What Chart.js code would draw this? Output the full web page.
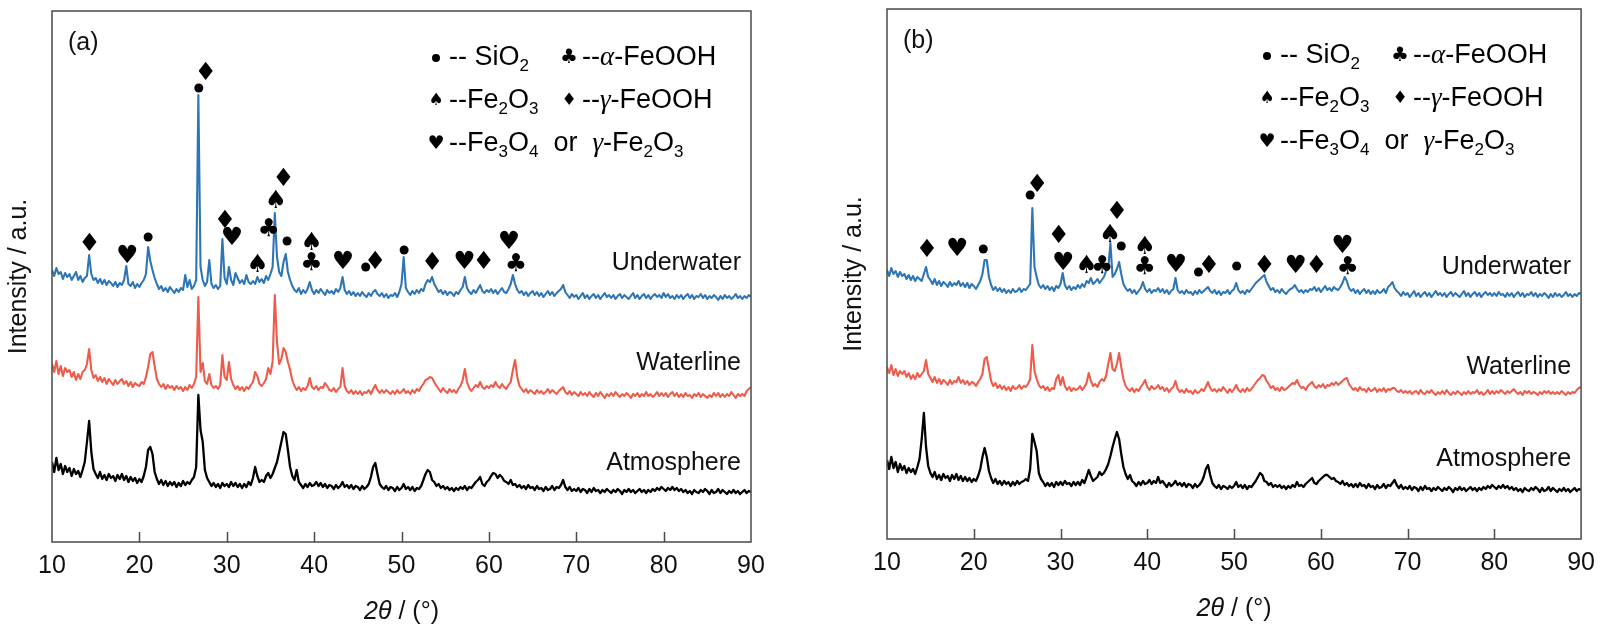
<!DOCTYPE html>
<html>
<head>
<meta charset="utf-8">
<script src="https://cdn.jsdelivr.net/npm/chart.js@4.4.1/dist/chart.umd.min.js"></script>
<style>
html,body{margin:0;padding:0;background:#fff;}
#wrap{position:relative;width:1604px;height:633px;overflow:hidden;background:#fff;}
canvas{position:absolute;top:0;}
#ca{left:0;}
#cb{left:802px;}
</style>
</head>
<body>
<div id="wrap">
  <canvas id="ca" width="802" height="633"></canvas>
  <canvas id="cb" width="802" height="633"></canvas>
</div>
<script>
//2theta sampling: 10 to 90 deg every 0.25 deg
const angleStart = 10;
const angleStep = 0.25;
const angleCount = 321;
const angles = Array.from({length: angleCount}, (_, i) => angleStart + i * angleStep);

const xTicks = [10, 20, 30, 40, 50, 60, 70, 80, 90];
const seriesNames = ['Underwater', 'Waterline', 'Atmosphere'];

//panel (a) intensities, a.u. (stacked as in the figure)
const aUnder = [
  272,266,274,268, 270,263,269,265, 268,262,266,270, 262,266,260,264, 266,287,268,262, //10-14
  264,259,263,258, 262,257,261,259, 256,260,255,259, 257,262,276,258, 256,260,254,258, //15-19
  255,259,262,268, 295,281,272,264, 258,253,256,251, 254,250,255,252, 249,253,250,254, //20-24
  252,267,255,262, 253,256,262,447, 275,262,256,260, 282,258,254,257, 253,256,303,264, //25-29
  258,275,262,257, 269,264,259,262, 258,267,260,258, 261,258,265,260, 263,259,266,262, //30-34
  268,275,329,285, 270,266,280,288, 270,262,256,252, 250,254,248,252, 249,253,260,252, //35-39
  248,252,249,253, 250,247,252,249, 251,248,253,250, 254,265,252,248, 251,247,250,246, //40-44
  249,246,250,247, 245,249,246,250, 252,248,246,249, 245,248,244,247, 246,249,245,250, //45-49
  258,285,254,250, 247,251,248,252, 249,253,251,258, 262,260,265,258, 254,250,252,248, //50-54
  251,247,250,249, 246,250,248,252, 255,265,254,250, 248,252,249,253, 257,251,249,252, //55-59
  250,253,249,252, 248,251,254,250, 249,253,258,267, 258,252,249,251, 247,250,246,249, //60-64
  251,247,250,246, 249,245,248,251, 247,250,246,249, 251,253,257,250, 247,244,248,245, //65-69
  247,243,246,249, 244,247,243,246, 248,244,247,243, 246,249,245,247, 244,247,243,246, //70-74
  248,244,247,245, 243,246,249,244, 247,243,246,248, 244,247,243,246, 248,245,247,244, //75-79
  249,245,248,244, 246,243,247,244, 247,243,246,248, 244,247,243,246, 245,248,244,247, //80-84
  243,246,244,247, 245,242,246,243, 247,244,246,243, 245,248,244,246, 243,246,244,247, //85-89
  245
];
const aWater = [
  178,170,181,168, 176,166,174,170, 172,165,170,162, 168,163,170,172, 178,193,172,164,
  167,161,165,160, 164,158,163,160, 157,162,158,161, 163,158,161,156, 160,155,159,157,
  156,160,158,165, 175,188,190,176, 163,158,155,158, 153,157,154,156, 152,156,153,155,
  151,155,152,157, 154,158,165,245, 170,179,161,158, 168,157,154,156, 153,157,187,165,
  162,180,163,157, 153,156,152,155, 151,155,153,157, 160,170,166,158, 156,159,163,174,
  168,180,247,200, 178,183,194,190, 180,172,162,156, 152,155,151,154, 152,156,164,155,
  153,156,152,155, 154,159,156,152, 151,154,150,153, 155,174,156,151, 149,152,148,151,
  148,151,147,150, 149,152,148,153, 157,152,149,152, 149,152,150,148, 151,148,152,149,
  150,153,149,151, 148,152,149,153, 151,155,158,162, 163,165,164,160, 156,153,150,154,
  151,149,153,150, 152,149,153,156, 162,173,160,154, 151,154,157,155, 160,155,153,156,
  154,157,155,160, 156,154,158,155, 153,157,160,172, 182,165,156,153, 150,153,149,152,
  150,148,152,149, 151,148,150,153, 149,152,150,148, 151,153,155,150, 148,151,147,150,
  148,146,150,147, 149,146,150,147, 145,149,146,150, 147,144,148,146, 149,146,150,147,
  145,148,146,149, 147,144,148,146, 149,145,148,146, 150,146,148,145, 147,150,146,149,
  146,149,145,148, 150,146,149,145, 148,145,149,146, 147,144,148,146, 149,145,148,146,
  144,147,145,149, 146,149,145,148, 145,148,146,150, 147,144,148,146, 148,146,151,153,
  155
];
const aAtmo = [
  80,70,84,72, 78,68,76,70, 74,66,73,68, 71,65,72,80, 100,121,90,73,
  68,64,70,63, 67,62,68,64, 66,61,67,63, 68,62,66,60, 65,61,64,59,
  63,60,66,75, 92,95,88,70, 63,58,62,57, 61,56,60,57, 60,55,59,56,
  61,57,60,58, 62,65,75,147, 112,100,72,64, 60,56,59,55, 58,54,59,56,
  58,55,60,56, 59,55,58,54, 58,55,60,57, 64,75,66,60, 62,60,66,69,
  64,68,74,80, 90,100,110,108, 92,75,66,62, 72,60,57,54, 58,55,59,56,
  57,60,56,59, 55,58,54,57, 56,53,57,54, 56,60,55,57, 54,57,53,56,
  55,52,56,53, 55,58,65,75, 79,68,58,55, 53,56,52,55, 54,51,55,52,
  54,58,53,55, 52,55,51,54, 53,56,62,68, 72,70,62,60, 56,58,54,56,
  53,55,52,54, 51,54,52,55, 53,56,52,55, 54,57,60,62, 65,58,56,60,
  62,66,69,68, 64,67,65,61, 60,58,62,57, 58,55,57,54, 56,53,57,54,
  55,52,56,53, 54,51,55,52, 53,56,52,55, 54,57,62,55, 52,55,51,53,
  51,54,50,53, 52,49,53,50, 54,51,52,49, 52,50,53,51, 49,52,50,53,
  51,48,52,50, 53,50,52,49, 51,53,50,52, 49,52,50,53, 51,54,52,55,
  53,51,54,52, 55,52,54,51, 53,50,52,49, 51,48,52,50, 49,52,50,53,
  51,48,52,49, 50,53,49,52, 50,48,51,49, 52,49,51,48, 50,52,49,51,
  50
];

//panel (b) intensities, a.u.
const bUnder = [
  269,263,271,265, 268,262,267,263, 265,260,264,259, 263,258,262,260, 258,265,272,262,
  259,255,260,254, 258,253,257,255, 252,257,253,256, 254,258,253,256, 252,256,251,255,
  253,250,254,258, 265,279,279,262, 254,249,252,248, 251,247,250,246, 249,246,250,247,
  248,251,247,250, 249,252,255,331, 272,262,254,251, 254,250,253,249, 252,248,253,251,
  255,266,254,250, 253,249,252,250, 254,251,255,252, 258,256,261,255, 257,260,256,259,
  262,268,270,296, 262,265,270,277, 265,255,251,248, 250,246,249,245, 248,251,257,250,
  247,250,246,249, 248,251,247,250, 246,249,245,248, 250,261,249,246, 248,245,249,246,
  247,244,248,245, 249,246,248,250, 252,248,246,249, 245,248,244,247, 246,249,245,248,
  250,256,249,246, 248,245,249,247, 250,253,256,258, 260,262,264,257, 253,249,251,247,
  249,246,250,247, 245,248,250,251, 254,250,247,249, 246,249,247,250, 249,252,248,251,
  247,250,253,249, 251,248,252,250, 249,252,256,262, 258,251,248,250, 246,249,245,248,
  250,246,249,245, 248,245,249,246, 247,250,246,252, 254,257,251,248, 246,243,247,244,
  246,242,245,248, 243,246,242,245, 247,243,246,242, 245,248,244,246, 243,246,242,245,
  247,243,246,244, 242,245,248,243, 246,242,245,247, 243,246,242,245, 247,244,246,243,
  246,243,247,244, 245,242,246,243, 246,242,245,247, 243,246,242,245, 244,247,243,246,
  242,245,243,246, 244,241,245,242, 246,243,245,242, 244,247,243,245, 242,245,243,246,
  245
];
const bWater = [
  172,166,174,164, 170,163,168,165, 168,162,166,160, 164,160,166,162, 165,168,179,165,
  161,157,162,156, 160,155,159,157, 154,159,155,158, 157,162,156,159, 155,158,154,157,
  156,153,157,160, 165,180,182,170, 158,153,156,151, 154,150,153,149, 152,148,153,150,
  151,154,150,153, 152,155,160,194, 168,160,154,151, 153,149,152,148, 151,150,160,164,
  154,162,153,149, 152,148,151,149, 150,153,149,152, 156,166,158,153, 155,152,157,160,
  158,163,175,186, 170,168,175,186, 172,160,153,150, 148,151,147,150, 148,152,155,159,
  152,149,153,150, 151,154,150,152, 148,151,147,150, 152,158,150,147, 149,146,150,147,
  148,145,149,146, 147,150,148,152, 157,151,148,150, 147,150,148,152, 149,146,150,147,
  150,154,149,147, 150,147,151,148, 150,153,156,159, 161,164,163,158, 155,151,153,149,
  151,148,152,149, 150,152,154,156, 155,159,154,151, 152,149,153,155, 157,153,151,154,
  152,155,151,154, 153,156,154,157, 154,156,158,160, 161,155,152,149, 151,148,152,149,
  150,147,151,148, 149,151,147,150, 148,151,147,150, 149,151,151,148, 147,149,146,148,
  146,148,145,147, 148,145,149,146, 145,148,146,149, 146,144,147,145, 148,145,149,146,
  144,147,145,148, 146,144,147,145, 148,145,147,146, 149,145,147,144, 146,149,145,148,
  145,148,146,149, 147,145,148,146, 148,150,147,145, 147,144,148,146, 148,145,147,146,
  144,147,145,148, 146,148,145,147, 145,147,145,148, 146,144,147,145, 147,146,149,151,
  152
];
const bAtmo = [
  79,70,82,71, 77,67,75,69, 73,66,71,67, 70,65,72,80, 100,126,92,73,
  66,62,67,60, 64,59,65,61, 63,58,64,60, 65,59,63,58, 62,58,61,57,
  60,58,63,70, 82,91,82,68, 61,56,60,55, 58,54,58,55, 57,53,57,54,
  58,55,57,58, 60,58,70,105, 97,88,66,60, 57,53,56,53, 56,52,57,54,
  57,54,58,55, 56,53,57,54, 57,54,59,56, 62,69,63,58, 60,62,67,64,
  66,70,75,83, 92,100,107,100, 85,72,65,60, 64,58,56,53, 57,54,58,55,
  56,59,55,58, 56,62,56,58, 55,52,56,53, 55,58,54,56, 53,56,52,55,
  54,51,55,52, 54,57,62,70, 74,64,56,53, 51,54,50,53, 52,50,53,51,
  53,57,52,54, 51,54,50,53, 52,55,58,62, 66,64,58,57, 54,56,52,54,
  52,54,51,53, 50,53,51,54, 52,57,53,54, 52,55,57,59, 61,56,55,58,
  60,62,64,64, 62,60,61,58, 57,55,58,54, 56,53,55,52, 55,52,56,53,
  54,51,55,52, 53,50,54,51, 52,55,51,54, 53,56,59,54, 51,54,50,52,
  50,53,49,52, 51,48,52,49, 53,50,51,48, 51,49,52,50, 48,51,49,52,
  50,47,51,49, 52,49,51,48, 50,52,49,51, 48,51,49,52, 50,53,51,54,
  52,50,53,51, 54,51,53,50, 52,49,51,48, 50,47,51,49, 48,51,49,52,
  50,47,51,48, 49,52,48,51, 49,47,50,48, 51,48,50,47, 49,51,48,50,
  49
];

//phase marks above the peaks: symbol, 2theta, intensity level
const aMarkSym   = ['♦','♥','●','●','♦','♦','♥','♠','♣','♠','♦','●','♠','♣','♥','●','♦','●','♦','♥','♦','♥','♣'];
const aMarkPos   = [14.3,18.6,21.0,26.8,27.6,29.8,30.6,33.5,34.8,35.6,36.5,36.9,39.7,39.7,43.3,45.9,47.0,50.3,53.5,57.2,59.4,62.3,63.1];
const aMarkLevel = [298,286,305,454,469,321,304,277,313,341,363,301,299,279,280,275,280,292,279,280,280,300,278];

const bMarkSym   = ['♦','♥','●','●','♦','♦','♥','♠','♣','♠','♦','●','♠','♣','♥','●','♦','●','♦','♥','♦','♥','♣'];
const bMarkPos   = [14.6,18.1,21.1,26.5,27.3,29.8,30.3,33.0,34.8,35.7,36.5,37.0,39.7,39.7,43.3,45.9,47.1,50.3,53.5,57.1,59.5,62.5,63.1];
const bMarkLevel = [289,290,290,344,354,303,276,273,273,304,327,293,292,272,274,267,273,273,273,273,273,293,272];

//where the sample names sit (intensity level)
const aNameLevel = [279, 179, 79];
const bNameLevel = [272, 172, 80];

const sans = '"Liberation Sans", Arial, sans-serif';
const serif = '"Liberation Serif", "Times New Roman", serif';
const symFont = '"DejaVu Sans", sans-serif';
const textColor = '#111';
const frameColor = '#4a4a4a';
const lineColors = ['#2e75b6', '#ef5b4b', '#000000'];

//glyph sizes (px) for the suit marks, plot and legend
const markSize = {'♦': 25, '♥': 25, '♠': 25, '♣': 25, '●': 9};
const legendMarkSize = {'♦': 17, '♥': 19, '♠': 17, '♣': 20, '●': 8};

//legend rows: [symbol, text parts] for two columns
const legendRows = [
  [['●', [['-- SiO', ''], ['2', 's']]], ['♣', [['--', ''], ['α', 'i'], ['-FeOOH', '']]]],
  [['♠', [['--Fe', ''], ['2', 's'], ['O', ''], ['3', 's']]], ['♦', [['--', ''], ['γ', 'i'], ['-FeOOH', '']]]],
  [['♥', [['--Fe', ''], ['3', 's'], ['O', ''], ['4', 's'], ['  or  ', ''], ['γ', 'i'], ['-Fe', ''], ['2', 's'], ['O', ''], ['3', 's']]]]
];

function setFont(ctx, kind, size){
	if(kind === 's'){
		ctx.font = Math.round(size * 0.64) + 'px ' + sans;
	}else if(kind === 'i'){
		ctx.font = 'italic ' + size + 'px ' + serif;
	}else if(kind === 'si'){
		ctx.font = 'italic ' + size + 'px ' + sans;
	}else{
		ctx.font = size + 'px ' + sans;
	}
}

function richWidth(ctx, parts, size){
	let w = 0;
	parts.forEach(p => { setFont(ctx, p[1], size); w += ctx.measureText(p[0]).width; });
	return w;
}

//draws text with subscripts / italic pieces, left aligned, vertically centred on y
function drawRich(ctx, parts, x, y, size){
	let cx = x;
	ctx.textAlign = 'left';
	ctx.textBaseline = 'middle';
	parts.forEach(p => {
		setFont(ctx, p[1], size);
		const dy = p[1] === 's' ? size * 0.3 : 0;
		ctx.fillText(p[0], cx, y + dy);
		cx += ctx.measureText(p[0]).width;
	});
}

function drawSym(ctx, s, cx, cy, size){
	if(s === '●'){
		ctx.beginPath();
		ctx.arc(cx, cy, size / 2, 0, Math.PI * 2);
		ctx.fill();
	}else{
		ctx.font = size + 'px ' + symFont;
		ctx.textAlign = 'center';
		ctx.textBaseline = 'middle';
		ctx.fillText(s, cx, cy);
	}
}

//frame, inward ticks, titles, peak marks, legend and sample names
function makeDecor(panel){
	return {
		id: 'xrdDecor',
		afterDraw(chart){
			const ctx = chart.ctx;
			const a = chart.chartArea;
			const x = chart.scales.x;
			const y = chart.scales.y;
			ctx.save();
			ctx.fillStyle = textColor;

			//inward ticks on the bottom axis
			ctx.strokeStyle = frameColor;
			ctx.lineWidth = 1.5;
			xTicks.forEach(v => {
				if(v > x.min && v < x.max){
					const px = Math.round(x.getPixelForValue(v)) + 0.5;
					ctx.beginPath();
					ctx.moveTo(px, a.bottom);
					ctx.lineTo(px, a.bottom - 10);
					ctx.stroke();
				}
			});
			ctx.strokeRect(a.left, a.top, a.right - a.left, a.bottom - a.top);

			//peak marks
			ctx.fillStyle = '#000';
			panel.markSym.forEach((s, i) => {
				drawSym(ctx, s, x.getPixelForValue(panel.markPos[i]), y.getPixelForValue(panel.markLevel[i]), markSize[s]);
			});

			//legend
			const rowY = [47, 90, 133];
			const symX = [panel.legendX, panel.legendX + 133];
			legendRows.forEach((row, r) => {
				row.forEach((cell, c) => {
					drawSym(ctx, cell[0], a.left + symX[c], a.top + rowY[r], legendMarkSize[cell[0]]);
					drawRich(ctx, cell[1], a.left + symX[c] + 13, a.top + rowY[r], 27);
				});
			});

			//sample names
			ctx.fillStyle = textColor;
			ctx.font = '25px ' + sans;
			ctx.textAlign = 'right';
			ctx.textBaseline = 'middle';
			seriesNames.forEach((n, i) => {
				ctx.fillText(n, a.right - 10, y.getPixelForValue(panel.nameLevel[i]));
			});

			//panel tag
			ctx.textAlign = 'left';
			ctx.fillText(panel.tag, a.left + 16, a.top + 32);

			//x title: 2θ / (°)
			const xt = [['2θ', 'si'], [' / (°)', '']];
			const xw = richWidth(ctx, xt, 25);
			drawRich(ctx, xt, (a.left + a.right) / 2 - xw / 2, a.bottom + 70, 25);

			//y title
			ctx.translate(a.left - 33, (a.top + a.bottom) / 2);
			ctx.rotate(-Math.PI / 2);
			ctx.font = '25px ' + sans;
			ctx.textAlign = 'center';
			ctx.textBaseline = 'middle';
			ctx.fillText('Intensity / a.u.', 0, 0);
			ctx.restore();
		}
	};
}

function makePanel(canvasId, panel){
	return new Chart(document.getElementById(canvasId), {
		type: 'line',
		data: {
			labels: angles,
			datasets: panel.series.map((s, i) => ({
				label: seriesNames[i],
				data: s,
				borderColor: lineColors[i],
				borderWidth: i === 2 ? 2.3 : 2.1,
				borderJoinStyle: 'round',
				pointRadius: 0,
				tension: 0,
				fill: false
			}))
		},
		options: {
			responsive: false,
			animation: false,
			events: [],
			layout: {padding: panel.padding},
			plugins: {legend: {display: false}, tooltip: {enabled: false}},
			scales: {
				x: {
					type: 'linear',
					min: 10,
					max: 90,
					afterBuildTicks: s => { s.ticks = xTicks.map(v => ({value: v})); },
					ticks: {
						font: {size: 25, family: sans},
						color: textColor,
						padding: 9,
						maxRotation: 0,
						autoSkip: false
					},
					grid: {display: false, drawTicks: false},
					border: {display: false},
					afterFit: s => { s.height = panel.axisHeight; }
				},
				y: {display: false, min: 0, max: panel.yMax}
			}
		},
		plugins: [makeDecor(panel)]
	});
}

makePanel('ca', {
	series: [aUnder, aWater, aAtmo],
	markSym: aMarkSym, markPos: aMarkPos, markLevel: aMarkLevel,
	nameLevel: aNameLevel,
	tag: '(a)',
	legendX: 384,
	padding: {left: 52, right: 51, top: 11, bottom: 0},
	axisHeight: 91,
	yMax: 531
});

makePanel('cb', {
	series: [bUnder, bWater, bAtmo],
	markSym: bMarkSym, markPos: bMarkPos, markLevel: bMarkLevel,
	nameLevel: bNameLevel,
	tag: '(b)',
	legendX: 380,
	padding: {left: 85, right: 17, top: 9, bottom: 0},
	axisHeight: 94,
	yMax: 530
});
</script>
</body>
</html>
